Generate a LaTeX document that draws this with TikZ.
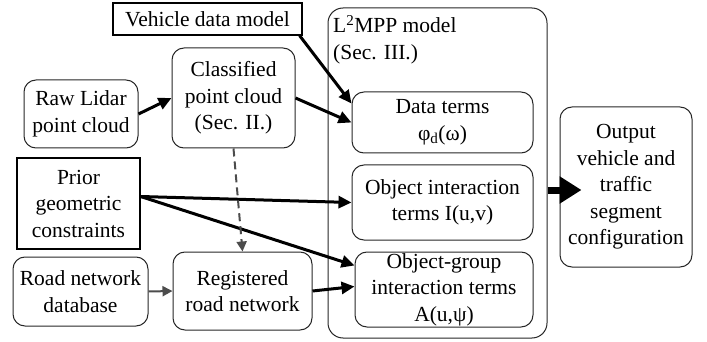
\documentclass[tikz,border=0pt]{standalone}
\usepackage{fontspec}
\setmainfont{Liberation Serif}
\usetikzlibrary{arrows.meta}

\begin{document}
\begin{tikzpicture}[x=1pt,y=-1pt,
    font=\fontsize{21.5}{26.5}\selectfont,
    rbox/.style={draw=black!85,line width=1pt,rounded corners=12pt,align=center,inner sep=0pt},
    sbox/.style={draw=black,line width=1.2pt,align=center,inner sep=0pt},
    flow/.style={-{Triangle[length=13pt,width=12pt]},line width=3pt},
    gflow/.style={-{Triangle[length=10pt,width=10pt]},line width=2pt,black!70}]
    \useasboundingbox (0,0) rectangle (707,342);

    % model box
    \node[rbox,rounded corners=15pt,minimum width=219pt,minimum height=330pt] (mpp) at (437.5,173) {};
    \node[anchor=north west,align=left,inner sep=0pt] (mpptxt) at (333,15) {L\textsuperscript{2}MPP model\\(Sec. III.)};
    \node[rbox,minimum width=181pt,minimum height=61pt] (data) at (442.5,122.5) {Data terms\\φ\textsubscript{d}(ω)};
    \node[rbox,minimum width=181pt,minimum height=75pt] (objint) at (442.5,202.5) {Object interaction\\terms I(u,v)};
    \node[rbox,minimum width=178pt,minimum height=75pt] (objgrp) at (444,289.5) {Object-group\\interaction terms\\A(u,ψ)};

    % inputs
    \node[sbox,minimum width=189pt,minimum height=32pt] (vdm) at (207.5,19) {Vehicle data model};
    \node[rbox,minimum width=114pt,minimum height=68pt] (raw) at (81,114) {Raw Lidar\\point cloud};
    \node[rbox,minimum width=123pt,minimum height=100pt] (cls) at (233.5,98) {Classified\\point cloud\\(Sec. II.)};
    \node[sbox,minimum width=123pt,minimum height=91pt] (prior) at (78.5,203.5) {Prior\\geometric\\constraints};
    \node[rbox,minimum width=135pt,minimum height=69pt] (roaddb) at (80.5,291.5) {Road network\\database};
    \node[rbox,minimum width=139pt,minimum height=78pt] (reg) at (242.5,291) {Registered\\road network};

    % output
    \node[rbox,minimum width=132pt,minimum height=160pt] (out) at (626,187) {Output\\vehicle and\\traffic\\segment\\configuration};

    \draw[flow] (raw.east) -- (cls.west);
    \draw[flow] ([xshift=-3pt]vdm.south east) -- ([yshift=19pt]data.west);
    \draw[flow] (cls.east) -- (data.west);
    \draw[flow] ([yshift=7pt]prior.east) -- (objint.west);
    \draw[flow] ([yshift=7pt]prior.east) -- ([yshift=24pt]objgrp.west);
    \draw[flow] (reg.east) -- ([yshift=3pt]objgrp.west);
    \draw[gflow,dash pattern=on 8pt off 5pt] (cls.south) -- (reg.north);
    \draw[gflow] (roaddb.east) -- (reg.west);
    \draw[-{Triangle[length=22pt,width=26pt]},line width=7pt] ([yshift=-17pt]mpp.east) -- ([xshift=22pt,yshift=-3pt]out.west);
\end{tikzpicture}
\end{document}
